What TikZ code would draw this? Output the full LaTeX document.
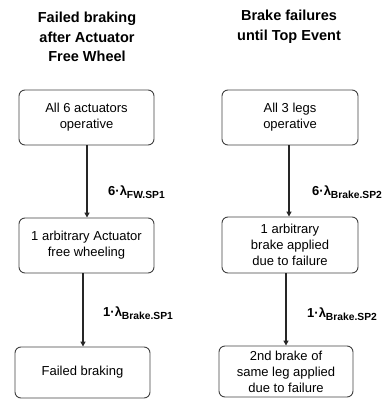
\documentclass[tikz,border=0pt]{standalone}
\usepackage{fontspec}
\setmainfont{Liberation Sans}
\usetikzlibrary{arrows.meta}
\newcommand{\lsubx}[1]{\raisebox{-3.2pt}{\fontsize{10.3}{11}\selectfont #1}}
\begin{document}
\begin{tikzpicture}[x=1pt,y=-1pt,
  box/.style={draw=black!75,line width=0.9pt,rounded corners=6pt,align=center,
    font=\fontsize{13}{16}\selectfont,inner sep=0pt},
  ttl/.style={align=center,font=\bfseries\fontsize{14.5}{19.5}\selectfont,inner sep=0pt},
  lbl/.style={anchor=west,font=\bfseries\fontsize{13}{14}\selectfont,inner sep=0pt},
  arr/.style={-{Triangle[length=5pt,width=5pt]},line width=1.4pt,black!85}]
\useasboundingbox (0,0) rectangle (385,401);
\node[ttl] (t1) at (87,37) {Failed braking\\after Actuator\\Free Wheel};
\node[ttl] (t2) at (289,27) {Brake failures\\until Top Event};
\node[box,minimum width=135pt,minimum height=55pt] (a1) at (86.5,117.5) {All 6 actuators\\operative};
\node[box,minimum width=135pt,minimum height=55pt] (a2) at (86.5,245.5) {1 arbitrary Actuator\\free wheeling};
\node[box,minimum width=135pt,minimum height=51pt] (a3) at (82.5,372.5) {Failed braking};
\node[box,minimum width=136pt,minimum height=55pt] (b1) at (290,117.5) {All 3 legs\\operative};
\node[box,minimum width=136pt,minimum height=56pt] (b2) at (290,245) {1 arbitrary\\brake applied\\due to failure};
\node[box,minimum width=134pt,minimum height=51pt] (b3) at (286,371.5) {2nd brake of\\same leg applied\\due to failure};
\draw[arr] (a1.south -| 87,0) -- (a2.north -| 87,0);
\draw[arr] (a2.south -| 83,0) -- (a3.north -| 83,0);
\draw[arr] (b1.south -| 289,0) -- (b2.north -| 289,0);
\draw[arr] (b2.south -| 286,0) -- (b3.north -| 286,0);
\node[lbl] (l1) at (108,192) {6·λ\lsubx{FW.SP1}};
\node[lbl] (l2) at (103,313) {1·λ\lsubx{Brake.SP1}};
\node[lbl] (l3) at (312,192) {6·λ\lsubx{Brake.SP2}};
\node[lbl] (l4) at (307,314) {1·λ\lsubx{Brake.SP2}};
\end{tikzpicture}
\end{document}
